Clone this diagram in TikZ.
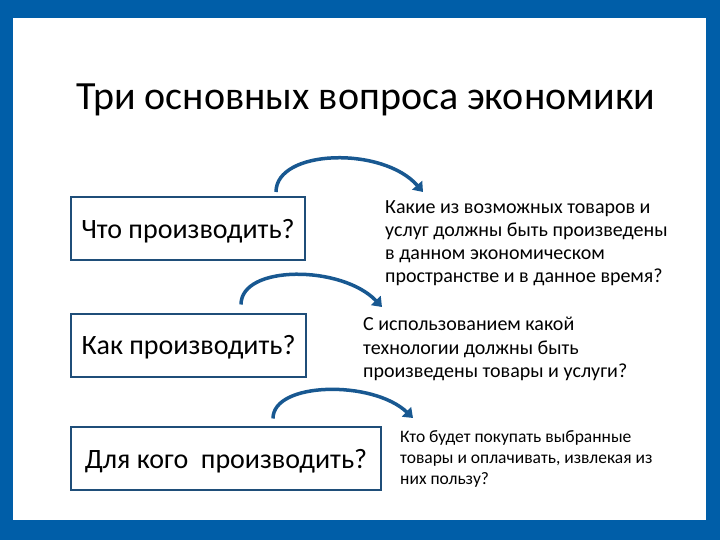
\documentclass[tikz,border=0pt]{standalone}
\usepackage{fontspec}
\setmainfont{Carlito}
\usetikzlibrary{arrows.meta,positioning}
\definecolor{frameblue}{RGB}{0,94,168}
\definecolor{boxline}{RGB}{31,78,121}
\definecolor{arrowblue}{RGB}{24,88,145}
\tikzset{
question/.style={
  draw=boxline, line width=2pt, fill=white,
  minimum height=63pt, inner sep=0pt, text depth=0pt,
  font=\fontsize{28}{32}\selectfont
},
answer/.style={
  align=left, anchor=north west, inner sep=0pt
},
bigarrow/.style={
  draw=arrowblue, line width=3.5pt,
  -{Triangle[width=13pt,length=9pt]}
}
}
\begin{document}
\begin{tikzpicture}[x=1pt,y=-1pt]
  \fill[frameblue] (0,0) rectangle (720,540);
  \fill[white] (13,18) rectangle (706,520);

  \node (title) at (366,100) {\fontsize{40}{46}\selectfont Три основных вопроса экономики};

  \node [question, minimum width=234pt] (what) at (188,228.5) {Что производить?};
  \node [question, minimum width=235pt] (how) at (188.5,345) {Как производить?};
  \node [question, minimum width=310pt, text height=21pt] (whom) at (226,458) {Для кого\ \ производить?};

  \node [answer, font=\fontsize{20}{23.2}\selectfont] (what-text) at (385,200)
    {Какие из возможных товаров и\\услуг должны быть произведены\\в данном экономическом\\пространстве и в данное время?};
  \node [answer, font=\fontsize{20}{23.5}\selectfont] (how-text) at (363,317)
    {С использованием какой\\технологии должны быть\\произведены товары и услуги?};
  \node [answer, font=\fontsize{17.5}{21}\selectfont] (whom-text) at (400,430)
    {Кто будет покупать выбранные\\товары и оплачивать, извлекая из\\них пользу?};

  \coordinate (what-end) at (423,192);
  \coordinate (how-end) at (382,307);
  \coordinate (whom-end) at (413,418);

  \draw [bigarrow] ([xshift=-30pt,yshift=4pt]what.north east) .. controls +(0,-43) and +(-40,-46) .. (what-end);
  \draw [bigarrow] ([xshift=-66pt,yshift=8pt]how.north east) .. controls +(0,-40) and +(-40,-42) .. (how-end);
  \draw [bigarrow] ([xshift=-109pt,yshift=7pt]whom.north east) .. controls +(0,-37) and +(-40,-38) .. (whom-end);
\end{tikzpicture}
\end{document}
